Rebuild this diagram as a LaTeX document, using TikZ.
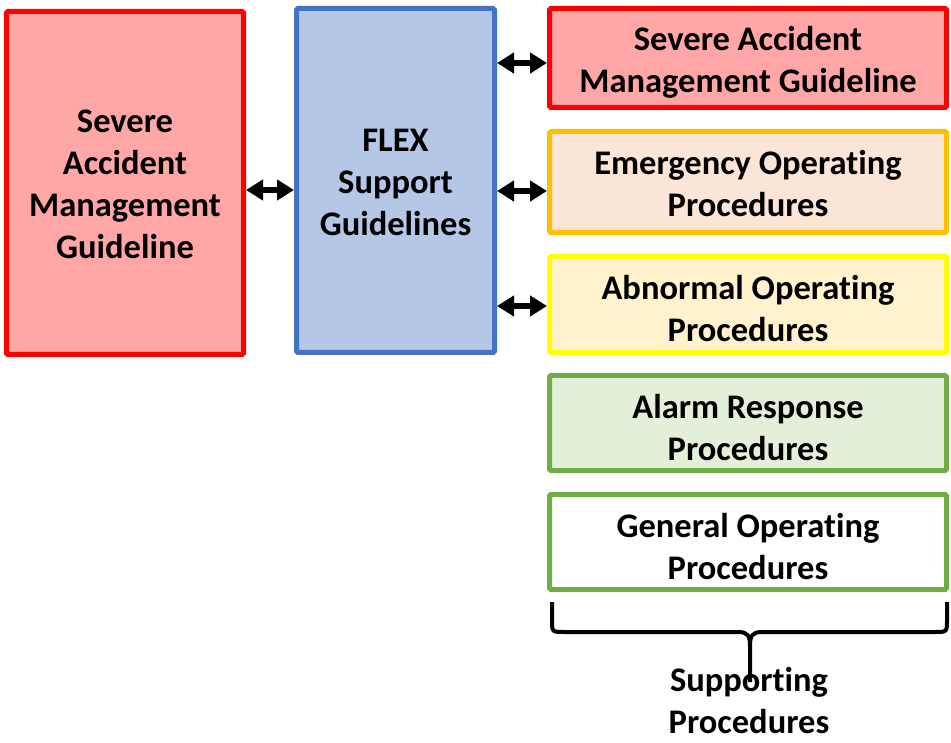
\documentclass[tikz,border=0pt]{standalone}
\usepackage{fontspec}
\setmainfont{Carlito}[Ligatures=NoCommon]
\usetikzlibrary{arrows.meta}
\definecolor{cred}{HTML}{FF0000}
\definecolor{fred}{HTML}{FFA6A6}
\definecolor{cblue}{HTML}{4472C4}
\definecolor{fblue}{HTML}{B4C7E7}
\definecolor{corange}{HTML}{FFC000}
\definecolor{forange}{HTML}{FBE5D6}
\definecolor{cyellow}{HTML}{FFFF00}
\definecolor{fyellow}{HTML}{FFF2CC}
\definecolor{cgreen}{HTML}{70AD47}
\definecolor{fgreen}{HTML}{E2F0D9}
\newcommand{\tlines}[2][5pt]{\raisebox{-#1}[\height][\depth]{\begin{tabular}{@{}c@{}}#2\end{tabular}}}
\tikzset{
  lbl/.style={font=\fontsize{34.5}{42}\selectfont\bfseries, text=black, inner sep=0pt},
  box/.style={lbl, draw, line width=5pt, rounded corners=1.5pt},
  dbl/.style={line width=6pt, {Triangle[length=17pt,width=20pt]}-{Triangle[length=17pt,width=20pt]}},
}
\begin{document}
\begin{tikzpicture}[x=1pt,y=-1pt]
\useasboundingbox (0,0) rectangle (951,743);
\node[box, draw=cred, fill=fred, minimum width=237pt, minimum height=343pt] (lsamg) at (125,183)
  {\tlines[4pt]{Severe\\Accident\\Management\\Guideline}};
\node[box, draw=cblue, fill=fblue, minimum width=198pt, minimum height=344pt] (flex) at (395.5,180.5)
  {\tlines{FLEX\\Support\\Guidelines}};
\node[box, draw=cred, fill=fred, minimum width=397pt, minimum height=99pt] (rsamg) at (748,58)
  {\tlines{Severe Accident\\Management Guideline}};
\node[box, draw=corange, fill=forange, minimum width=397pt, minimum height=101pt] (eop) at (748,182)
  {\tlines{Emergency Operating\\Procedures}};
\node[box, draw=cyellow, fill=fyellow, minimum width=397pt, minimum height=96pt] (aop) at (748,304.5)
  {\tlines[8pt]{Abnormal Operating\\Procedures}};
\node[box, draw=cgreen, fill=fgreen, minimum width=397pt, minimum height=95pt] (arp) at (748,423)
  {\tlines[8pt]{Alarm Response\\Procedures}};
\node[box, draw=cgreen, fill=white, minimum width=397pt, minimum height=95pt] (gop) at (748,542)
  {\tlines[8pt]{General Operating\\Procedures}};
\draw[dbl] (lsamg.east |- 0,190) -- (flex.west |- 0,190);
\draw[dbl] (flex.east |- 0,63) -- (rsamg.west |- 0,63);
\draw[dbl] (flex.east |- 0,191) -- (eop.west |- 0,191);
\draw[dbl] (flex.east |- 0,306) -- (aop.west |- 0,306);
\coordinate (bl) at (552,602);
\coordinate (br) at (947,602);
\coordinate (bt) at (750,682);
\draw[line width=4pt, line join=round]
  (bl) -- (552,620) .. controls (552,632) .. (564,632) -- (738,632)
  .. controls (748,632) and (750,636) .. (750,646) -- (bt);
\draw[line width=4pt, line join=round]
  (br) -- (947,620) .. controls (947,632) .. (935,632) -- (762,632)
  .. controls (752,632) and (750,636) .. (750,646);
\node[lbl] (sp) at (749,699.5) {\tlines{Supporting\\Procedures}};
\end{tikzpicture}
\end{document}
